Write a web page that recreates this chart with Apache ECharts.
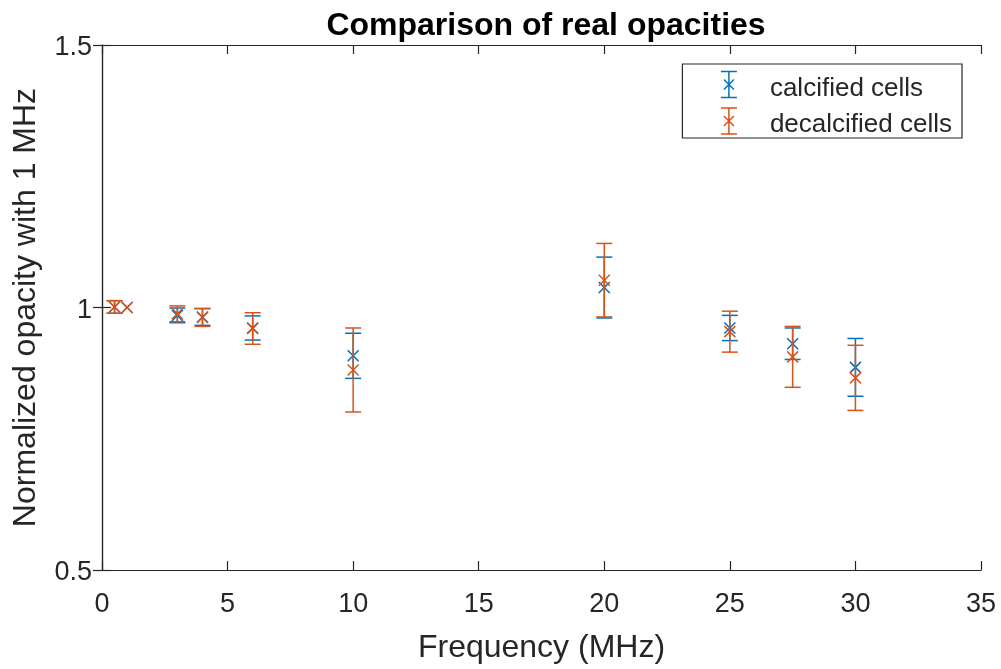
<!DOCTYPE html>
<html>
<head>
<meta charset="utf-8">
<script src="https://cdn.jsdelivr.net/npm/echarts@6/dist/echarts.min.js"></script>
<style>html,body{margin:0;padding:0;background:#fff}#c{width:1001px;height:669px}</style>
</head>
<body>
<div id="c"></div>
<script>
const freq = [0.5, 1, 3, 4, 6, 10, 20, 25, 27.5, 30];
const calcifiedMean = [1.001, 1.0, 0.985, 0.982, 0.961, 0.908, 1.038, 0.961, 0.931, 0.886];
const calcifiedErr  = [0.012, 0.0, 0.014, 0.016, 0.023, 0.043, 0.058, 0.024, 0.030, 0.055];
const decalcifiedMean = [1.001, 1.0, 0.988, 0.981, 0.960, 0.881, 1.052, 0.954, 0.906, 0.866];
const decalcifiedErr  = [0.012, 0.0, 0.015, 0.017, 0.030, 0.080, 0.070, 0.039, 0.058, 0.062];
const xTicks = [0, 5, 10, 15, 20, 25, 30, 35];
const yTicks = [0.5, 1, 1.5];

const BLUE = '#0072BD', ORANGE = '#D95319', AX = '#262626';
const FONT = '"Liberation Sans", Arial, Helvetica, sans-serif';

function build(mean, err) {
  return freq.map((f, i) => [f, mean[i], mean[i] - err[i], mean[i] + err[i]]);
}

function makeRender(color) {
  return function (params, api) {
    const x = api.value(0), y = api.value(1), lo = api.value(2), hi = api.value(3);
    const pC = api.coord([x, y]), pL = api.coord([x, lo]), pH = api.coord([x, hi]);
    const w = 8, m = 5.5;
    const st = { stroke: color, lineWidth: 1.5, fill: null };
    const children = [];
    if (hi > lo) {
      children.push({ type: 'line', shape: { x1: pC[0], y1: pL[1], x2: pC[0], y2: pH[1] }, style: st });
      children.push({ type: 'line', shape: { x1: pC[0] - w, y1: pL[1], x2: pC[0] + w, y2: pL[1] }, style: st });
      children.push({ type: 'line', shape: { x1: pC[0] - w, y1: pH[1], x2: pC[0] + w, y2: pH[1] }, style: st });
    }
    children.push({ type: 'line', shape: { x1: pC[0] - m, y1: pC[1] - m, x2: pC[0] + m, y2: pC[1] + m }, style: st });
    children.push({ type: 'line', shape: { x1: pC[0] - m, y1: pC[1] + m, x2: pC[0] + m, y2: pC[1] - m }, style: st });
    return { type: 'group', children };
  };
}

const iconPath = 'path://M0,0H16M8,0V26M0,26H16M3,8L13,18M13,8L3,18';

const axisCommon = {
  axisLine: { show: true, lineStyle: { color: AX, width: 1.2 } },
  axisTick: { show: true, inside: true, length: 9, lineStyle: { color: AX, width: 1.2 } },
  splitLine: { show: false }
};

const chart = echarts.init(document.getElementById('c'), null, { renderer: 'canvas' });
chart.setOption({
  animation: false,
  backgroundColor: '#fff',
  title: {
    text: 'Comparison of real opacities',
    left: 541, top: 5, textAlign: 'center',
    textStyle: { fontFamily: FONT, fontSize: 32, fontWeight: 'bold', color: '#000' }
  },
  grid: { left: 102, right: 20, top: 45, bottom: 97, containLabel: false },
  legend: {
    right: 39, top: 64, orient: 'vertical',
    backgroundColor: '#fff', borderColor: AX, borderWidth: 1.2,
    padding: [5, 10, 0, 36],
    itemWidth: 16, itemHeight: 26, itemGap: 4,
    formatter: name => '{t|' + name + '}',
    textStyle: { fontFamily: FONT, fontSize: 26, color: AX,
      rich: { t: { fontFamily: FONT, fontSize: 26, color: AX, padding: [8, 0, 0, 28] } } },
    data: [
      { name: 'calcified cells', icon: iconPath, itemStyle: { color: 'none', borderColor: BLUE, borderWidth: 1.5 } },
      { name: 'decalcified cells', icon: iconPath, itemStyle: { color: 'none', borderColor: ORANGE, borderWidth: 1.5 } }
    ]
  },
  xAxis: [
    Object.assign({
      type: 'value', min: xTicks[0], max: xTicks[xTicks.length - 1], interval: 5,
      position: 'bottom',
      name: 'Frequency (MHz)', nameLocation: 'middle', nameGap: 62,
      nameTextStyle: { fontFamily: FONT, fontSize: 32, color: AX },
      axisLabel: { fontFamily: FONT, fontSize: 27, color: AX, margin: 21 }
    }, axisCommon),
    Object.assign({
      type: 'value', min: xTicks[0], max: xTicks[xTicks.length - 1], interval: 5,
      position: 'top', axisLabel: { show: false }
    }, axisCommon)
  ],
  yAxis: [
    Object.assign({
      type: 'value', min: yTicks[0], max: yTicks[yTicks.length - 1], interval: 0.5,
      position: 'left',
      name: 'Normalized opacity with 1 MHz', nameLocation: 'middle', nameGap: 60,
      nameTextStyle: { fontFamily: FONT, fontSize: 32, color: AX },
      axisLabel: { fontFamily: FONT, fontSize: 27, color: AX, margin: 10,
        formatter: v => (yTicks.indexOf(v) >= 0 ? '{v|' + v + '}' : ''),
        rich: { v: { fontFamily: FONT, fontSize: 27, color: AX, padding: [6, 0, 0, 0] } } }
    }, axisCommon),
    Object.assign({
      type: 'value', min: yTicks[0], max: yTicks[yTicks.length - 1], interval: 0.5,
      position: 'right', axisLabel: { show: false }
    }, axisCommon)
  ],
  series: [
    { name: 'calcified cells', type: 'custom', xAxisIndex: 0, yAxisIndex: 0, clip: false,
      itemStyle: { color: BLUE }, renderItem: makeRender(BLUE),
      encode: { x: 0, y: [1, 2, 3] }, data: build(calcifiedMean, calcifiedErr) },
    { name: 'decalcified cells', type: 'custom', xAxisIndex: 0, yAxisIndex: 0, clip: false,
      itemStyle: { color: ORANGE }, renderItem: makeRender(ORANGE),
      encode: { x: 0, y: [1, 2, 3] }, data: build(decalcifiedMean, decalcifiedErr) }
  ]
});
</script>
</body>
</html>
